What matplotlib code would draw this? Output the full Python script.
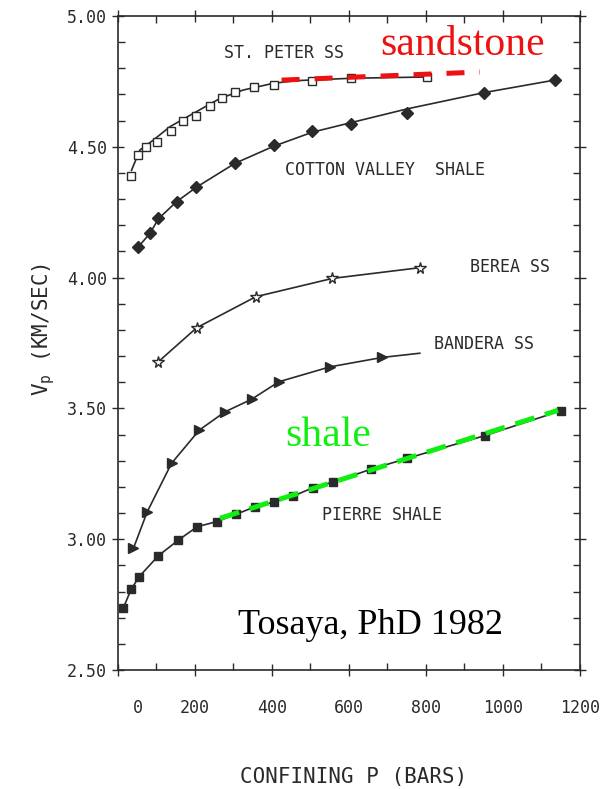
import numpy as np
import matplotlib.pyplot as plt
from matplotlib.transforms import ScaledTranslation

# values (pressure in bars, Vp in km/s)
stpeter_p = [35, 51, 73, 101, 138, 168, 203, 239, 270, 305, 353, 404, 504, 605, 803]
stpeter_v = [4.39, 4.469, 4.498, 4.52, 4.56, 4.599, 4.619, 4.657, 4.688, 4.708,
             4.727, 4.737, 4.752, 4.763, 4.767]
stpeter_fit_p = [35, 57, 92, 135, 196, 265, 325, 404, 464, 605, 803]
stpeter_fit_v = [4.41, 4.488, 4.526, 4.577, 4.628, 4.685, 4.717, 4.743, 4.753, 4.762, 4.767]

cotton_p = [53, 83, 105, 152, 203, 304, 404, 505, 604, 751, 950, 1134]
cotton_v = [4.118, 4.169, 4.229, 4.29, 4.348, 4.437, 4.507, 4.56, 4.586, 4.628, 4.707, 4.755]
cotton_fit_p = [53, 83, 105, 152, 203, 304, 404, 505, 604, 751, 950, 1134]
cotton_fit_v = [4.118, 4.169, 4.225, 4.29, 4.345, 4.437, 4.502, 4.556, 4.592, 4.645, 4.707, 4.755]

berea_p = [103, 204, 358, 557, 784]
berea_v = [3.676, 3.808, 3.927, 3.997, 4.038]

bandera_p = [40, 76, 139, 211, 278, 347, 418, 551, 687]
bandera_v = [2.965, 3.105, 3.29, 3.417, 3.487, 3.535, 3.602, 3.659, 3.695]
bandera_fit_p = bandera_p + [784]
bandera_fit_v = bandera_v + [3.711]

pierre_p = [14, 34, 55, 105, 157, 206, 256, 306, 356, 405, 455, 507, 558, 656, 751, 953, 1150]
pierre_v = [2.738, 2.808, 2.857, 2.937, 2.997, 3.048, 3.067, 3.095, 3.124, 3.142,
            3.165, 3.197, 3.218, 3.267, 3.309, 3.396, 3.491]

sand_p = [425, 940]
sand_v = [4.755, 4.786]
shale_p = [265, 1143]
shale_v = [3.08, 3.493]

xticks = [0, 200, 400, 600, 800, 1000, 1200]
yticks = [2.5, 3.0, 3.5, 4.0, 4.5, 5.0]

mono = 'DejaVu Sans Mono'
serif = 'Liberation Serif'
ink = '#2a2a2a'

fig = plt.figure(figsize=(6.07, 7.89), dpi=100)
ax = fig.add_axes([0.1944, 0.1508, 0.9555 - 0.1944, 0.9797 - 0.1508])

lw = 1.2
ax.plot(stpeter_fit_p, stpeter_fit_v, '-', color=ink, lw=lw)
ax.plot(stpeter_p, stpeter_v, 's', ms=6, mfc='white', mec=ink, mew=1.0)
ax.plot(cotton_fit_p, cotton_fit_v, '-', color=ink, lw=lw)
ax.plot(cotton_p, cotton_v, 'D', ms=6, color=ink)
ax.plot(berea_p, berea_v, '-', color=ink, lw=lw)
ax.plot(berea_p, berea_v, '*', ms=8.5, mfc='white', mec=ink, mew=1.0)
ax.plot(bandera_fit_p, bandera_fit_v, '-', color=ink, lw=lw)
ax.plot(bandera_p, bandera_v, '>', ms=7, color=ink)
ax.plot(pierre_p, pierre_v, '-s', ms=6, color=ink, lw=lw)

ax.plot(sand_p, sand_v, '--', color='#ee1111', lw=3.6, dashes=(3.6, 3.0))
ax.plot(shale_p, shale_v, '--', color='#11ee11', lw=3.6, dashes=(4.0, 2.2))

lab_fs = 12
ax.text(431, 4.859, 'ST. PETER SS', family=mono, fontsize=lab_fs, color=ink,
        ha='center', va='center')
ax.text(894, 4.889, 'sandstone', family=serif, fontsize=30, color='#ee1111',
        ha='center', va='center')
ax.text(694, 4.411, 'COTTON VALLEY  SHALE', family=mono, fontsize=lab_fs, color=ink,
        ha='center', va='center')
ax.text(1018, 4.04, 'BEREA SS', family=mono, fontsize=lab_fs, color=ink,
        ha='center', va='center')
ax.text(950, 3.746, 'BANDERA SS', family=mono, fontsize=lab_fs, color=ink,
        ha='center', va='center')
ax.text(686, 3.093, 'PIERRE SHALE', family=mono, fontsize=lab_fs, color=ink,
        ha='center', va='center')
ax.text(545, 3.394, 'shale', family=serif, fontsize=30, color='#11ee11',
        ha='center', va='center')
ax.text(655, 2.672, 'Tosaya, PhD 1982', family=serif, fontsize=26, color='black',
        ha='center', va='center')

ax.set_xlim(0, 1200)
ax.set_ylim(2.5, 5.0)
ax.set_xticks(xticks)
ax.set_xticklabels([str(t) for t in xticks], family=mono, fontsize=12, color=ink)
ax.set_xticks(np.arange(100, 1200, 100), minor=True)
ax.set_yticks(yticks)
ax.set_yticklabels(['%.2f' % t for t in yticks], family=mono, fontsize=12, color=ink)
ax.set_yticks(np.arange(2.6, 5.0, 0.1), minor=True)

for s in ax.spines.values():
    s.set_color(ink)
    s.set_linewidth(1.2)

ax.tick_params(which='major', direction='inout', length=8, width=1.0, color=ink,
               top=True, right=True)
ax.tick_params(which='minor', direction='in', length=5, width=1.0, color=ink,
               top=True, right=True)
ax.tick_params(axis='x', which='major', pad=17)
ax.tick_params(axis='y', which='major', pad=4)

plt.rcParams['mathtext.default'] = 'regular'
ax.set_xlabel('CONFINING P (BARS)', family=mono, fontsize=15, color=ink, va='center')
ax.set_ylabel('V$_{p}$ (KM/SEC)', family=mono, fontsize=15, color=ink, va='center')
ax.xaxis.set_label_coords(0.509, -0.1636)
ax.yaxis.set_label_coords(-0.16, 0.52)

# the "0" label sits to the right of its tick in the scan
fig.canvas.draw()
lab0 = ax.xaxis.get_major_ticks()[0].label1
lab0.set_transform(lab0.get_transform() + ScaledTranslation(0.2, 0, fig.dpi_scale_trans))

fig.savefig('out.png', dpi=100)
